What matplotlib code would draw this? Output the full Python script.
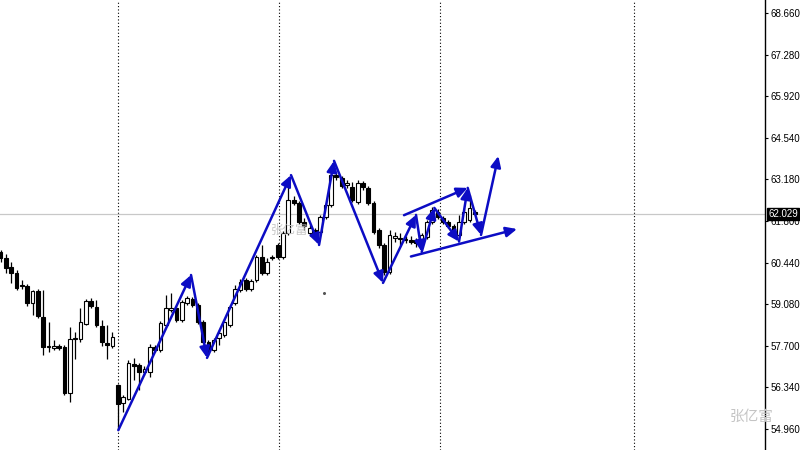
import matplotlib
matplotlib.use("Agg")
import matplotlib.pyplot as plt
import matplotlib.transforms as mtransforms
import numpy as np

# candle data (index = bar number from left)
opens = [60.79, 60.59, 60.29, 60.10, 59.70, 59.67, 59.11, 59.50, 58.65, 57.66,
         57.62, 57.69, 57.66, 56.14, 57.92, 57.92, 58.42, 59.17, 58.98, 58.35,
         57.79, 57.69, 56.41, 55.81, 55.95, 57.10, 57.07, 56.84, 56.84, 57.66,
         57.56, 58.38, 58.88, 58.94, 58.55, 59.11, 59.24, 59.04, 58.48, 57.82,
         57.56, 57.95, 58.05, 58.38, 59.11, 59.54, 59.86, 59.57, 59.86, 60.62,
         60.10, 60.59, 61.02, 60.62, 61.41, 62.50, 62.40, 61.78, 61.41, 61.51,
         61.45, 61.94, 62.34, 63.32, 63.23, 62.99, 62.93, 62.43, 63.06, 62.90,
         62.40, 61.51, 61.02, 60.13, 61.25, 61.25, 61.18, 61.18, 61.18, 61.08,
         61.28, 61.78, 62.10, 61.91, 61.78, 61.64, 61.35, 61.78, 61.84, 62.12]
highs = [60.85, 60.72, 60.46, 60.19, 59.86, 59.73, 59.54, 59.57, 59.54, 58.48,
         57.89, 57.76, 57.72, 58.32, 58.15, 58.94, 59.24, 59.27, 59.21, 58.55,
         58.38, 58.15, 56.44, 56.08, 57.23, 57.30, 57.13, 57.03, 57.76, 57.72,
         58.51, 59.37, 59.44, 59.01, 59.21, 59.34, 59.30, 59.11, 58.55, 57.89,
         57.95, 58.22, 58.58, 59.04, 59.70, 59.90, 59.93, 59.90, 60.69, 61.02,
         60.59, 60.69, 61.08, 61.48, 63.05, 62.63, 62.47, 61.91, 61.68, 61.58,
         62.01, 62.40, 63.49, 63.42, 63.29, 63.16, 63.09, 63.16, 63.13, 62.96,
         62.47, 61.58, 61.08, 61.51, 61.45, 61.41, 61.31, 61.31, 61.25, 61.41,
         61.84, 62.27, 62.20, 61.97, 61.84, 61.71, 62.01, 62.24, 62.67, 62.17]
lows = [60.46, 60.10, 59.77, 59.54, 59.57, 59.01, 58.71, 58.61, 57.39, 57.49,
        57.56, 57.56, 56.08, 55.85, 57.26, 57.82, 58.38, 58.94, 58.32, 57.69,
        57.26, 57.62, 54.92, 55.52, 55.91, 56.57, 56.24, 56.74, 56.67, 57.49,
        57.49, 58.32, 58.81, 58.48, 58.48, 59.04, 58.98, 58.42, 57.76, 57.39,
        57.49, 57.72, 57.99, 58.32, 59.04, 59.47, 59.50, 59.50, 59.80, 60.03,
        60.03, 60.52, 60.56, 60.56, 61.35, 62.34, 61.71, 61.51, 61.31, 61.25,
        61.38, 61.87, 62.27, 63.16, 62.90, 62.90, 62.43, 62.37, 62.83, 62.34,
        61.38, 60.92, 60.03, 60.06, 61.12, 61.02, 61.08, 61.05, 60.95, 61.02,
        61.22, 61.71, 61.87, 61.71, 61.58, 61.28, 61.25, 61.71, 61.78, 62.00]
closes = [60.59, 60.26, 60.10, 59.60, 59.67, 59.11, 59.50, 58.68, 57.66, 57.69,
          57.69, 57.62, 56.14, 57.92, 57.95, 58.48, 59.17, 59.01, 58.38, 57.82,
          57.72, 57.99, 55.78, 56.01, 57.13, 57.03, 56.84, 56.93, 57.66, 57.56,
          58.45, 58.94, 58.94, 58.55, 59.14, 59.27, 59.04, 58.48, 57.82, 57.56,
          57.89, 58.12, 58.48, 58.98, 59.57, 59.80, 59.57, 59.83, 60.62, 60.10,
          60.46, 60.62, 60.62, 61.41, 62.50, 62.40, 61.78, 61.64, 61.58, 61.35,
          61.94, 62.34, 63.32, 63.26, 62.96, 63.06, 62.50, 63.06, 62.93, 62.40,
          61.45, 61.02, 60.13, 61.35, 61.31, 61.20, 61.22, 61.13, 61.08, 61.35,
          61.78, 62.17, 61.94, 61.78, 61.64, 61.38, 61.78, 62.10, 62.24, 62.029]

last_price = 62.029
y_ticks = [54.96, 56.34, 57.70, 59.08, 60.44, 61.80, 63.18, 64.54, 65.92, 67.28, 68.66]
separators = [22.05, 52.3, 82.5, 118.9]

# hand drawn zigzag (bar index, price)
zig_x = [22.1, 35.74, 38.74, 54.5, 59.76, 62.57, 71.76, 77.95, 79.02, 81.39, 86.02, 87.65, 90.15, 93.4]
zig_y = [54.92, 60.03, 57.30, 63.32, 61.02, 63.79, 59.77, 62.01, 60.79, 62.24, 61.13, 62.90, 61.35, 63.95]
upper_x = [75.7, 87.65]
upper_y = [62.00, 62.90]
lower_x = [77.0, 96.9]
lower_y = [60.64, 61.545]

blue = '#0c0cc4'
label_font = ['Liberation Sans', 'DejaVu Sans']

fig = plt.figure(figsize=(8, 4.5), dpi=100)
ax = fig.add_axes([0, 0, 765 / 800, 1])

n = len(opens)
idx = np.arange(n)
o = np.array(opens)
c = np.array(closes)
h = np.array(highs)
l = np.array(lows)

for s in separators:
    ax.axvline(s, color='black', lw=0.8, linestyle=(0, (1, 2)), zorder=1)

ax.axhline(last_price, color='#c8c8c8', lw=0.9, zorder=1)

ax.vlines(idx, l, h, color='black', lw=0.9, zorder=2)
up = c >= o
bottoms = np.minimum(o, c)
heights = np.maximum(np.abs(c - o), 0.012)
ax.bar(idx[up], heights[up], bottom=bottoms[up], width=0.7,
       color='white', edgecolor='black', linewidth=0.8, zorder=3)
ax.bar(idx[~up], heights[~up], bottom=bottoms[~up], width=0.7,
       color='black', edgecolor='black', linewidth=0.8, zorder=3)

ax.plot([60.7], [59.44], marker='o', ms=1.2, color='#555555', zorder=2)

cjk = ['Noto Sans CJK SC', 'DejaVu Sans']
ax.text(54.3, 61.51, '张亿富', family=cjk, fontsize=9, color='#c8c8c8',
        ha='center', va='center', zorder=4)

arrow_kw = dict(arrowstyle='-|>,head_length=0.65,head_width=0.3', color=blue,
                lw=1.8, shrinkA=0, shrinkB=0, mutation_scale=10)
for k in range(len(zig_x) - 1):
    ax.annotate('', xy=(zig_x[k + 1], zig_y[k + 1]), xytext=(zig_x[k], zig_y[k]),
                arrowprops=arrow_kw, zorder=5)
ax.annotate('', xy=(upper_x[1], upper_y[1]), xytext=(upper_x[0], upper_y[0]),
            arrowprops=arrow_kw, zorder=5)
ax.annotate('', xy=(lower_x[1], lower_y[1]), xytext=(lower_x[0], lower_y[0]),
            arrowprops=arrow_kw, zorder=5)

ax.set_xlim(-0.1, 765 / 5.33 - 0.1)
ax.set_ylim(54.266, 69.088)

ax.yaxis.tick_right()
ax.set_yticks(y_ticks)
ax.set_yticklabels(['%.3f' % v for v in y_ticks], fontsize=7, family=label_font)
ax.tick_params(axis='y', length=2.5, width=0.8, pad=1.5, colors='black')
ax.set_xticks([])
for side in ['top', 'bottom', 'left']:
    ax.spines[side].set_visible(False)
ax.spines['right'].set_linewidth(1.0)

trans = mtransforms.blended_transform_factory(ax.transAxes, ax.transData)
ax.text(1.004, last_price, '%.3f' % last_price, transform=trans, fontsize=7,
        family=label_font, color='white', va='center', ha='left', clip_on=False,
        zorder=10, bbox=dict(boxstyle='square,pad=0.12', fc='black', ec='black'))

fig.text(752 / 800, 1 - 417 / 450, '张亿富', family=cjk, fontsize=10.5, color='#c4c4c4',
         ha='center', va='center')

fig.savefig('out.png', dpi=100)
